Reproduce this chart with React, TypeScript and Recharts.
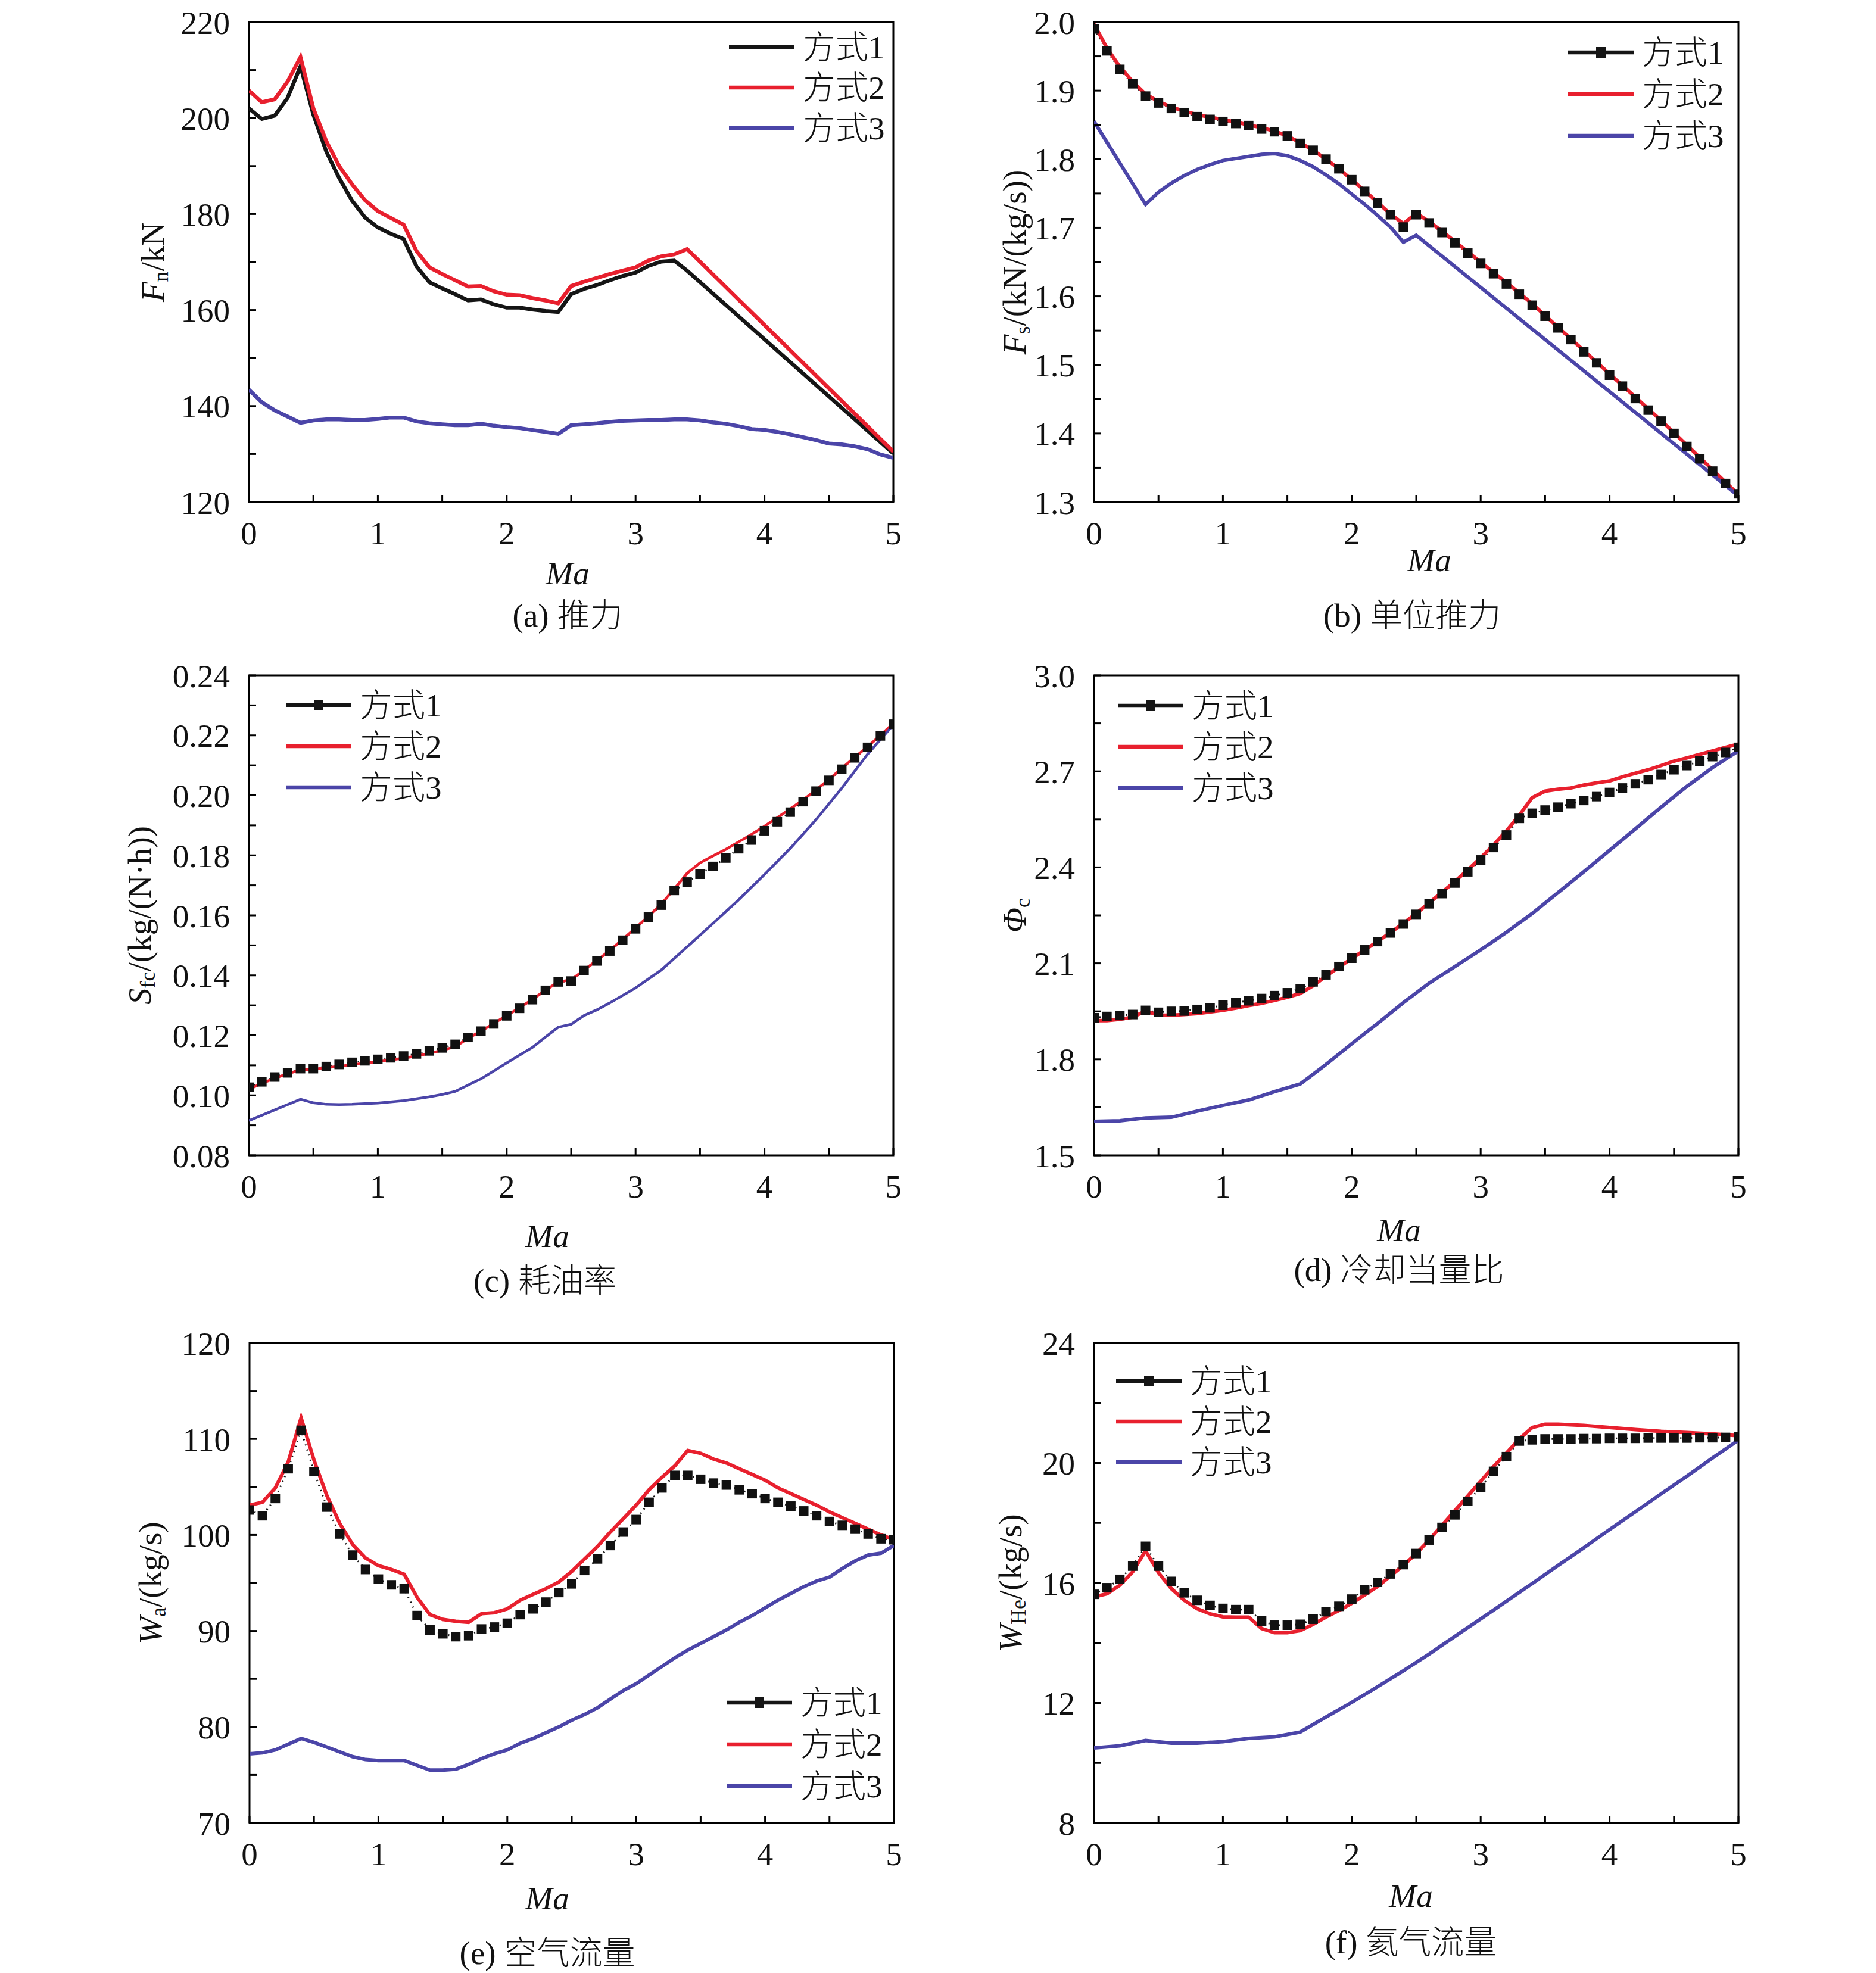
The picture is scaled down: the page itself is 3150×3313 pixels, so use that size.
import React from "react"
import { LineChart, Line, XAxis, YAxis, ReferenceArea, Legend } from "recharts"

const FONT = "'Liberation Serif', 'Times New Roman', 'Noto Sans CJK SC', serif"
const FS = 55
const BLACK = "#151515"
const RED = "#e8202e"
const BLUE = "#4b45a8"

const MA = [
  0, 0.1, 0.2, 0.3, 0.4, 0.5, 0.6, 0.7, 0.8, 0.9,
  1, 1.1, 1.2, 1.3, 1.4, 1.5, 1.6, 1.7, 1.8, 1.9,
  2, 2.1, 2.2, 2.3, 2.4, 2.5, 2.6, 2.7, 2.8, 2.9,
  3, 3.1, 3.2, 3.3, 3.4, 3.5, 3.6, 3.7, 3.8, 3.9,
  4, 4.1, 4.2, 4.3, 4.4, 4.5, 4.6, 4.7, 4.8, 4.9,
  5,
]
const SERIES_NAMES = ["方式1", "方式2", "方式3"]
const X_TICKS = [0, 0.5, 1, 1.5, 2, 2.5, 3, 3.5, 4, 4.5, 5]

// (a) thrust, kN
const THRUST_1 = [
  202.0, 199.8, 200.5, 204.2, 210.8, 200.7, 193.0, 187.5, 182.8, 179.3,
  177.2, 175.9, 174.8, 169.1, 165.8, 164.5, 163.3, 162.0, 162.2, 161.2,
  160.5, 160.5, 160.1, 159.8, 159.6, 163.3, 164.4, 165.2, 166.2, 167.1,
  167.8, 169.2, 170.1, 170.3, 168.2, null, null, null, null, null,
  null, null, null, null, null, null, null, null, null, null,
  130.1,
]
const THRUST_2 = [
  205.7, 203.3, 203.9, 207.6, 212.7, 202.0, 195.2, 190.0, 186.2, 182.9,
  180.6, 179.2, 177.8, 172.3, 168.9, 167.5, 166.2, 164.9, 165.0, 163.9,
  163.2, 163.1, 162.5, 162.0, 161.4, 165.0, 165.9, 166.7, 167.5, 168.2,
  168.9, 170.3, 171.2, 171.6, 172.7, null, null, null, null, null,
  null, null, null, null, null, null, null, null, null, null,
  130.5,
]
const THRUST_3 = [
  143.4, 140.8, 139.1, 137.8, 136.5, 137.0, 137.2, 137.2, 137.1, 137.1,
  137.3, 137.6, 137.6, 136.8, 136.4, 136.2, 136.0, 136.0, 136.3, 135.9,
  135.6, 135.4, 135.0, 134.6, 134.2, 136.0, 136.2, 136.4, 136.7, 136.9,
  137.0, 137.1, 137.1, 137.2, 137.2, 137.0, 136.6, 136.3, 135.8, 135.2,
  135.0, 134.6, 134.1, 133.5, 132.9, 132.2, 132.0, 131.6, 131.0, 129.9,
  129.2,
]

// (b) specific thrust, kN/(kg/s)
const SPEC_1 = [
  1.99, 1.958, 1.931, 1.910, 1.892, 1.882, 1.874, 1.868, 1.862, 1.858,
  1.855, 1.852, 1.849, 1.844, 1.840, 1.834, 1.823, 1.813, 1.800, 1.786,
  1.770, 1.753, 1.736, 1.719, 1.701, 1.719, 1.707, 1.693, 1.678, 1.663,
  1.648, 1.633, 1.618, 1.603, 1.587, 1.571, 1.554, 1.537, 1.519, 1.503,
  1.485, 1.469, 1.451, 1.434, 1.418, 1.400, 1.381, 1.363, 1.345, 1.327,
  1.312,
]
const SPEC_2 = [
  1.997, 1.962, 1.935, 1.913, 1.895, 1.884, 1.876, 1.870, 1.865, 1.861,
  1.858, 1.854, 1.850, 1.846, 1.841, 1.834, 1.824, 1.813, 1.800, 1.786,
  1.770, 1.754, 1.737, 1.720, 1.706, 1.721, 1.709, 1.695, 1.680, 1.665,
  1.650, 1.635, 1.620, 1.605, 1.589, 1.572, 1.555, 1.538, 1.521, 1.504,
  1.487, 1.470, 1.453, 1.436, 1.419, 1.401, 1.383, 1.365, 1.347, 1.329,
  1.311,
]
const SPEC_3 = [
  1.855, null, null, null, 1.734, 1.752, 1.765, 1.776, 1.785, 1.792,
  1.798, 1.801, 1.804, 1.807, 1.808, 1.805, 1.798, 1.789, 1.777, 1.764,
  1.749, 1.734, 1.718, 1.701, 1.679, 1.689, null, null, null, null,
  null, null, null, null, null, null, null, null, null, null,
  null, null, null, null, null, null, null, null, null, null,
  1.309,
]

// (c) fuel consumption, kg/(N·h)
const SFC_1 = [
  0.1027, 0.1045, 0.1061, 0.1075, 0.1089, 0.1089, 0.1096, 0.1103, 0.1110, 0.1115,
  0.1120, 0.1125, 0.1131, 0.1138, 0.1148, 0.1158, 0.1170, 0.1193, 0.1214, 0.1238,
  0.1265, 0.1290, 0.1319, 0.1350, 0.1378, 0.1381, 0.1416, 0.1448, 0.1481, 0.1517,
  0.1555, 0.1594, 0.1634, 0.1683, 0.1711, 0.1737, 0.1763, 0.1791, 0.1822, 0.1851,
  0.1882, 0.1912, 0.1944, 0.1979, 0.2014, 0.2050, 0.2087, 0.2125, 0.2160, 0.2198,
  0.2237,
]
const SFC_2 = [
  0.1020, 0.1040, 0.1057, 0.1072, 0.1085, 0.1087, 0.1092, 0.1097, 0.1102, 0.1107,
  0.1112, 0.1118, 0.1124, 0.1131, 0.1140, 0.1150, 0.1162, 0.1190, 0.1214, 0.1240,
  0.1266, 0.1292, 0.1320, 0.1350, 0.1378, 0.1385, 0.1418, 0.1450, 0.1483, 0.1520,
  0.1558, 0.1597, 0.1638, 0.1688, 0.1740, 0.1775, 0.1798, 0.1820, 0.1845, 0.1870,
  0.1897, 0.1926, 0.1955, 0.1985, 0.2018, 0.2053, 0.2090, 0.2127, 0.2162, 0.2200,
  0.2240,
]
const SFC_3 = [
  0.0916, null, null, null, 0.0987, 0.0975, 0.0970, 0.0969, 0.0970, null,
  0.0974, null, 0.0982, null, 0.0995, 0.1003, 0.1013, null, 0.1055, null,
  0.1108, null, 0.1160, 0.1194, 0.1227, 0.1237, 0.1266, 0.1285, 0.1308, null,
  0.1358, null, 0.1418, null, 0.1495, null, 0.1573, null, 0.1652, null,
  0.1736, null, 0.1823, null, 0.1919, null, 0.2024, null, 0.2137, null,
  0.2235,
]

// (d) cooling equivalence ratio
const PHI_1 = [
  1.930, 1.934, 1.937, 1.940, 1.953, 1.947, 1.950, 1.951, 1.956, 1.961,
  1.969, 1.977, 1.983, 1.990, 1.999, 2.008, 2.021, 2.042, 2.064, 2.090,
  2.116, 2.142, 2.168, 2.195, 2.223, 2.253, 2.286, 2.318, 2.351, 2.386,
  2.423, 2.462, 2.501, 2.553, 2.569, 2.579, 2.588, 2.599, 2.609, 2.621,
  2.634, 2.648, 2.661, 2.674, 2.690, 2.705, 2.718, 2.732, 2.746, 2.759,
  2.775,
]
const PHI_2 = [
  1.921, 1.921, 1.925, 1.932, 1.951, 1.938, 1.938, 1.940, 1.943, 1.948,
  1.953, 1.960, 1.968, 1.975, 1.984, 1.994, 2.006, 2.030, 2.060, 2.088,
  2.115, 2.142, 2.168, 2.196, 2.225, 2.256, 2.289, 2.322, 2.356, 2.392,
  2.430, 2.470, 2.514, 2.563, 2.618, 2.638, 2.644, 2.648, 2.657, 2.664,
  2.670, 2.683, 2.694, 2.705, 2.718, 2.732, 2.742, 2.753, 2.764, 2.775,
  2.785,
]
const PHI_3 = [
  1.606, null, 1.608, null, 1.617, null, 1.619, null, 1.638, null,
  1.656, null, 1.673, null, 1.699, null, 1.723, null, 1.784, null,
  1.849, null, 1.912, null, 1.977, null, 2.038, null, 2.090, null,
  2.142, null, 2.197, null, 2.256, null, 2.321, null, 2.386, null,
  2.453, null, 2.520, null, 2.588, null, 2.653, null, 2.712, null,
  2.764,
]

// (e) air flow, kg/s
const AIR_1 = [
  102.6, 102.0, 103.8, 106.9, 110.9, 106.6, 102.9, 100.1, 97.9, 96.4,
  95.4, 94.8, 94.4, 91.6, 90.1, 89.7, 89.4, 89.5, 90.2, 90.4,
  90.8, 91.7, 92.3, 93.0, 94.0, 94.9, 96.3, 97.5, 98.9, 100.3,
  101.6, 103.4, 104.9, 106.2, 106.2, 105.8, 105.4, 105.2, 104.7, 104.3,
  103.8, 103.4, 103.0, 102.5, 102.0, 101.4, 101.0, 100.6, 100.1, 99.6,
  99.5,
]
const AIR_2 = [
  103.1, 103.4, 104.9, 107.6, 112.2, 107.8, 104.1, 101.2, 99.0, 97.6,
  96.8, 96.4, 95.9, 93.5, 91.7, 91.2, 91.0, 90.9, 91.8, 91.9,
  92.3, 93.2, 93.8, 94.4, 95.1, 96.2, 97.5, 98.8, 100.3, 101.7,
  103.1, 104.7, 106.0, 107.2, 108.8, 108.5, 107.9, 107.5, 106.9, 106.3,
  105.7, 104.9, 104.3, 103.7, 103.1, 102.4, 101.8, 101.2, 100.6, 100.0,
  99.5,
]
const AIR_3 = [
  77.2, 77.3, 77.6, 78.2, 78.8, 78.4, 77.9, 77.4, 76.9, 76.6,
  76.5, 76.5, 76.5, 76.0, 75.5, 75.5, 75.6, 76.1, 76.7, 77.2,
  77.6, 78.3, 78.8, 79.4, 80.0, 80.7, 81.3, 82.0, 82.9, 83.8,
  84.5, 85.4, 86.3, 87.2, 88.0, 88.7, 89.4, 90.1, 90.9, 91.6,
  92.4, 93.2, 93.9, 94.6, 95.2, 95.6, 96.5, 97.3, 97.9, 98.1,
  98.9,
]

// (f) helium flow, kg/s
const HE_1 = [
  15.62, 15.84, 16.12, 16.56, 17.22, 16.56, 16.05, 15.67, 15.42, 15.25,
  15.15, 15.11, 15.11, 14.73, 14.59, 14.59, 14.62, 14.79, 15.04, 15.22,
  15.46, 15.77, 16.02, 16.30, 16.61, 16.98, 17.43, 17.85, 18.27, 18.72,
  19.18, 19.72, 20.21, 20.73, 20.77, 20.80, 20.80, 20.80, 20.81, 20.81,
  20.82, 20.82, 20.82, 20.83, 20.83, 20.83, 20.83, 20.84, 20.84, 20.85,
  20.87,
]
const HE_2 = [
  15.53, 15.64, 15.92, 16.37, 17.07, 16.34, 15.81, 15.42, 15.14, 14.97,
  14.87, 14.86, 14.86, 14.48, 14.34, 14.34, 14.41, 14.62, 14.86, 15.08,
  15.32, 15.60, 15.88, 16.23, 16.58, 16.98, 17.43, 17.92, 18.41, 18.90,
  19.39, 19.88, 20.33, 20.80, 21.18, 21.29, 21.29, null, 21.25, null,
  21.18, null, 21.11, null, 21.05, null, 21.01, null, 20.97, null,
  20.91,
]
const HE_3 = [
  10.50, null, 10.57, null, 10.75, null, 10.66, null, 10.66, null,
  10.71, null, 10.82, null, 10.87, null, 11.03, null, 11.53, null,
  12.02, null, 12.54, null, 13.07, null, 13.63, null, 14.22, null,
  14.80, null, 15.39, null, 15.98, null, 16.58, null, 17.17, null,
  17.78, null, 18.37, null, 18.97, null, 19.56, null, 20.17, null,
  20.76,
]

const PW = 1082
const PH = 806
const ML = 330
const MT = 40
const MR = 60
const XH = 260
const TM = 32
const MK = 16

type Part = [string, "i" | "s" | "n"]

type PanelProps = {
  left: number
  top: number
  s1: (number | null)[]
  s2: (number | null)[]
  s3: (number | null)[]
  domain: [number, number]
  yTicks: number[]
  yLabels: number[]
  digits: number
  title: Part[]
  titleDx: number
  maDx: number
  maDy: number
  legendX: number
  legendY: number
  legendGap: number
  marked: boolean
  lineW: number
}

function TitleText({ parts, x, y }: { parts: Part[]; x: number; y: number }) {
  const out: React.ReactNode[] = []
  let shift = 0
  parts.forEach(([t, kind], i) => {
    const dy = kind === "s" ? 14 - shift : -shift
    shift = kind === "s" ? 14 : 0
    out.push(
      <tspan
        key={i}
        dy={dy}
        fontStyle={kind === "i" ? "italic" : "normal"}
        fontSize={kind === "s" ? 36 : FS}
      >
        {t}
      </tspan>
    )
  })
  return (
    <text
      x={x}
      y={y}
      transform={`rotate(-90 ${x} ${y})`}
      textAnchor="middle"
      dominantBaseline="central"
      fontFamily={FONT}
      fontSize={FS}
      fill="#111"
    >
      {out}
    </text>
  )
}

function LegendBox({ gap, marked }: { gap: number; marked: boolean }) {
  const colors = [BLACK, RED, BLUE]
  return (
    <div style={{ fontFamily: FONT, fontSize: FS, fontWeight: 300, color: "#111" }}>
      {SERIES_NAMES.map((n, i) => (
        <div key={n} style={{ display: "flex", alignItems: "center", height: gap }}>
          <svg width={110} height={22}>
            <line x1={0} x2={110} y1={11} y2={11} stroke={colors[i]} strokeWidth={6.5} />
            {marked && i === 0 && <rect x={47} y={2} width={16} height={18} fill={BLACK} />}
          </svg>
          <span style={{ marginLeft: 14, lineHeight: 1, whiteSpace: "nowrap" }}>{n}</span>
        </div>
      ))}
    </div>
  )
}

function Panel(p: PanelProps) {
  const rows = MA.map((m, i) => ({ ma: m, s1: p.s1[i], s2: p.s2[i], s3: p.s3[i] }))
  const chartLeft = p.left - ML
  const chartTop = p.top - MT

  const yTick = (props: any) => {
    const { x, y, payload } = props
    const ax = x + TM
    const major = p.yLabels.some((v) => Math.abs(v - payload.value) < 1e-9)
    return (
      <g>
        <line x1={ax} x2={ax + 12} y1={y} y2={y} stroke="#000" strokeWidth={3} />
        {major && (
          <text x={x} y={y} dy="0.355em" textAnchor="end" fontFamily={FONT} fontSize={FS} fill="#111">
            {Number(payload.value).toFixed(p.digits)}
          </text>
        )}
      </g>
    )
  }

  const xTick = (props: any) => {
    const { x, y, payload } = props
    const ay = y - TM
    const v = payload.value
    const major = Math.abs(v - Math.round(v)) < 1e-9
    return (
      <g>
        <line x1={x} x2={x} y1={ay} y2={ay - 12} stroke="#000" strokeWidth={3} />
        {major && (
          <text x={x} y={y} dy="0.71em" textAnchor="middle" fontFamily={FONT} fontSize={FS} fill="#111">
            {v}
          </text>
        )}
      </g>
    )
  }

  const square = (props: any) => {
    const { cx, cy, index } = props
    if (cx == null || cy == null || props.value == null) return <g key={index} />
    return <rect key={index} x={cx - MK / 2} y={cy - MK / 2} width={MK} height={MK} fill="#111" />
  }

  return (
    <div style={{ position: "absolute", left: chartLeft, top: chartTop }}>
      <LineChart
        width={ML + PW + MR}
        height={MT + PH + XH}
        data={rows}
        margin={{ top: MT, right: MR, left: 0, bottom: 0 }}
      >
        <XAxis
          dataKey="ma"
          type="number"
          domain={[0, 5]}
          ticks={X_TICKS}
          interval={0}
          tickSize={0}
          tickMargin={TM}
          tick={xTick}
          tickLine={false}
          axisLine={false}
          height={XH}
          allowDataOverflow
          label={{
            content: () => (
              <text
                x={ML + PW / 2 + p.maDx}
                y={MT + PH + p.maDy}
                textAnchor="middle"
                dominantBaseline="central"
                fontFamily={FONT}
                fontSize={FS}
                fontStyle="italic"
                fill="#111"
              >
                Ma
              </text>
            ),
          }}
        />
        <YAxis
          type="number"
          domain={p.domain}
          ticks={p.yTicks}
          interval={0}
          tickSize={0}
          tickMargin={TM}
          tick={yTick}
          tickLine={false}
          axisLine={false}
          width={ML}
          allowDataOverflow
          label={{
            content: () => <TitleText parts={p.title} x={ML + p.titleDx} y={MT + PH / 2} />,
          }}
        />
        <Line
          dataKey="s1"
          name={SERIES_NAMES[0]}
          stroke={BLACK}
          strokeWidth={p.marked ? 3 : p.lineW}
          strokeDasharray={p.marked ? "2 7" : undefined}
          dot={p.marked ? square : false}
          activeDot={false}
          connectNulls
          isAnimationActive={false}
        />
        <Line
          dataKey="s2"
          name={SERIES_NAMES[1]}
          stroke={RED}
          strokeWidth={p.lineW}
          dot={false}
          activeDot={false}
          connectNulls
          isAnimationActive={false}
        />
        <Line
          dataKey="s3"
          name={SERIES_NAMES[2]}
          stroke={BLUE}
          strokeWidth={p.lineW}
          dot={false}
          activeDot={false}
          connectNulls
          isAnimationActive={false}
        />
        <ReferenceArea
          x1={0}
          x2={5}
          y1={p.domain[0]}
          y2={p.domain[1]}
          fill="none"
          fillOpacity={0}
          stroke="#000"
          strokeWidth={3}
          ifOverflow="visible"
        />
        <Legend
          layout="vertical"
          align="center"
          verticalAlign="middle"
          wrapperStyle={{
            left: p.legendX - chartLeft,
            top: p.legendY - p.legendGap / 2 - chartTop,
            width: "auto",
          }}
          content={() => <LegendBox gap={p.legendGap} marked={p.marked} />}
        />
      </LineChart>
    </div>
  )
}

function Caption({ x, y, text }: { x: number; y: number; text: string }) {
  return (
    <div
      style={{
        position: "absolute",
        left: x - 400,
        top: y - FS / 2,
        width: 800,
        textAlign: "center",
        fontFamily: FONT,
        fontSize: FS,
        fontWeight: 300,
        lineHeight: `${FS}px`,
        color: "#111",
      }}
    >
      {text}
    </div>
  )
}

export default function App() {
  return (
    <div
      style={{
        position: "absolute",
        left: 0,
        top: 0,
        width: 3150,
        height: 3313,
        background: "#fff",
        overflow: "hidden",
      }}
    >
      <Panel
        left={418} top={37}
        s1={THRUST_1} s2={THRUST_2} s3={THRUST_3}
        domain={[120, 220]}
        yTicks={[120, 130, 140, 150, 160, 170, 180, 190, 200, 210, 220]}
        yLabels={[120, 140, 160, 180, 200, 220]}
        digits={0}
        title={[["F", "i"], ["n", "s"], ["/kN", "n"]]}
        titleDx={-162} maDx={-6} maDy={119}
        legendX={1224} legendY={79} legendGap={68}
        marked={false} lineW={6.5}
      />
      <Panel
        left={1837} top={37}
        s1={SPEC_1} s2={SPEC_2} s3={SPEC_3}
        domain={[1.3, 2.0]}
        yTicks={[1.3, 1.35, 1.4, 1.45, 1.5, 1.55, 1.6, 1.65, 1.7, 1.75, 1.8, 1.85, 1.9, 1.95, 2.0]}
        yLabels={[1.3, 1.4, 1.5, 1.6, 1.7, 1.8, 1.9, 2.0]}
        digits={1}
        title={[["F", "i"], ["s", "s"], ["/(kN/(kg/s))", "n"]]}
        titleDx={-134} maDx={22} maDy={97}
        legendX={2633} legendY={88} legendGap={70}
        marked lineW={6}
      />
      <Panel
        left={418} top={1134}
        s1={SFC_1} s2={SFC_2} s3={SFC_3}
        domain={[0.08, 0.24]}
        yTicks={[0.08, 0.09, 0.1, 0.11, 0.12, 0.13, 0.14, 0.15, 0.16, 0.17, 0.18, 0.19, 0.2, 0.21, 0.22, 0.23, 0.24]}
        yLabels={[0.08, 0.1, 0.12, 0.14, 0.16, 0.18, 0.2, 0.22, 0.24]}
        digits={2}
        title={[["S", "i"], ["fc", "s"], ["/(kg/(N·h))", "n"]]}
        titleDx={-184} maDx={-40} maDy={135}
        legendX={480} legendY={1184} legendGap={69}
        marked lineW={4.5}
      />
      <Panel
        left={1837} top={1134}
        s1={PHI_1} s2={PHI_2} s3={PHI_3}
        domain={[1.5, 3.0]}
        yTicks={[1.5, 1.65, 1.8, 1.95, 2.1, 2.25, 2.4, 2.55, 2.7, 2.85, 3.0]}
        yLabels={[1.5, 1.8, 2.1, 2.4, 2.7, 3.0]}
        digits={1}
        title={[["Φ", "i"], ["c", "s"]]}
        titleDx={-134} maDx={-29} maDy={125}
        legendX={1877} legendY={1185} legendGap={69}
        marked lineW={6}
      />
      <Panel
        left={419} top={2255}
        s1={AIR_1} s2={AIR_2} s3={AIR_3}
        domain={[70, 120]}
        yTicks={[70, 75, 80, 85, 90, 95, 100, 105, 110, 115, 120]}
        yLabels={[70, 80, 90, 100, 110, 120]}
        digits={0}
        title={[["W", "i"], ["a", "s"], ["/(kg/s)", "n"]]}
        titleDx={-167} maDx={-41} maDy={126}
        legendX={1220} legendY={2859} legendGap={70}
        marked lineW={6}
      />
      <Panel
        left={1837} top={2255}
        s1={HE_1} s2={HE_2} s3={HE_3}
        domain={[8, 24]}
        yTicks={[8, 10, 12, 14, 16, 18, 20, 22, 24]}
        yLabels={[8, 12, 16, 20, 24]}
        digits={0}
        title={[["W", "i"], ["He", "s"], ["/(kg/s)", "n"]]}
        titleDx={-141} maDx={-9} maDy={122}
        legendX={1874} legendY={2319} legendGap={68}
        marked lineW={6}
      />
      <Caption x={953} y={1033} text="(a) 推力" />
      <Caption x={2371} y={1033} text="(b) 单位推力" />
      <Caption x={915} y={2150} text="(c) 耗油率" />
      <Caption x={2349} y={2132} text="(d) 冷却当量比" />
      <Caption x={919} y={3279} text="(e) 空气流量" />
      <Caption x={2369} y={3261} text="(f) 氦气流量" />
    </div>
  )
}
